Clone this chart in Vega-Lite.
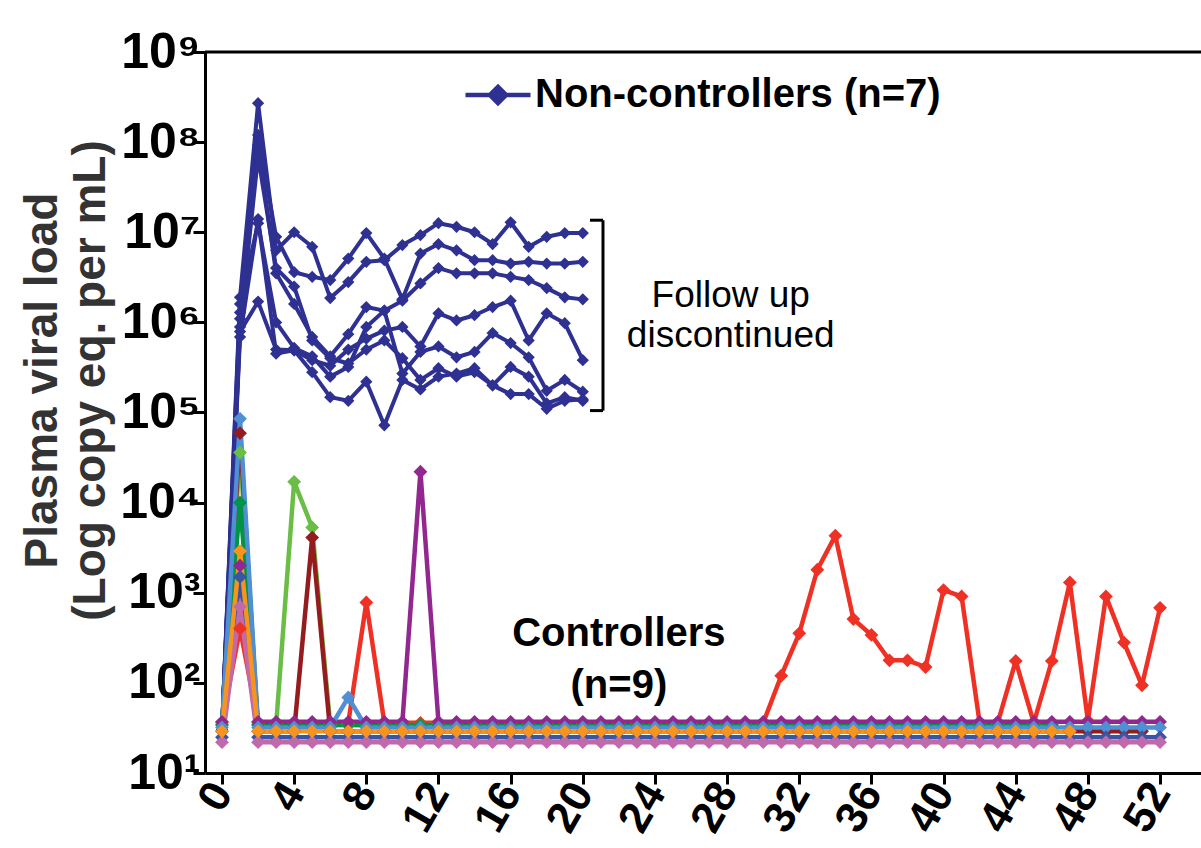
{
"$schema": "https://vega.github.io/schema/vega-lite/v6.json",
"width": 996, "height": 721,
"autosize": {"type": "none"},
"padding": {"left": 205, "top": 52, "right": 0, "bottom": 75},
"background": "white",
"config": {"view": {"stroke": null}, "font": "Liberation Sans"},
"datasets": {
"nc": [
{"s":"n1","w":0,"v":30},{"s":"n1","w":1,"v":1.9e6},{"s":"n1","w":2,"v":2.7e8},{"s":"n1","w":3,"v":6.3e6},{"s":"n1","w":4,"v":1.0e7},{"s":"n1","w":5,"v":6.9e6},{"s":"n1","w":6,"v":1.86e6},{"s":"n1","w":7,"v":2.8e6},{"s":"n1","w":8,"v":4.7e6},{"s":"n1","w":9,"v":4.9e6},{"s":"n1","w":10,"v":7.2e6},{"s":"n1","w":11,"v":9.3e6},{"s":"n1","w":12,"v":1.26e7},{"s":"n1","w":13,"v":1.15e7},{"s":"n1","w":14,"v":1.0e7},{"s":"n1","w":15,"v":7.4e6},{"s":"n1","w":16,"v":1.29e7},{"s":"n1","w":17,"v":6.9e6},{"s":"n1","w":18,"v":8.9e6},{"s":"n1","w":19,"v":9.8e6},{"s":"n1","w":20,"v":9.8e6},
{"s":"n2","w":0,"v":30},{"s":"n2","w":1,"v":1.29e6},{"s":"n2","w":2,"v":1.2e8},{"s":"n2","w":3,"v":8.9e6},{"s":"n2","w":4,"v":3.6e6},{"s":"n2","w":5,"v":3.2e6},{"s":"n2","w":6,"v":2.95e6},{"s":"n2","w":7,"v":5.1e6},{"s":"n2","w":8,"v":9.8e6},{"s":"n2","w":9,"v":5.1e6},{"s":"n2","w":10,"v":1.8e6},{"s":"n2","w":11,"v":5.8e6},{"s":"n2","w":12,"v":7.4e6},{"s":"n2","w":13,"v":6.3e6},{"s":"n2","w":14,"v":4.9e6},{"s":"n2","w":15,"v":4.9e6},{"s":"n2","w":16,"v":4.5e6},{"s":"n2","w":17,"v":4.7e6},{"s":"n2","w":18,"v":4.5e6},{"s":"n2","w":19,"v":4.5e6},{"s":"n2","w":20,"v":4.7e6},
{"s":"n3","w":0,"v":30},{"s":"n3","w":1,"v":1.1e6},{"s":"n3","w":2,"v":9.3e7},{"s":"n3","w":3,"v":3.5e6},{"s":"n3","w":4,"v":1.6e6},{"s":"n3","w":5,"v":6.9e5},{"s":"n3","w":6,"v":4.2e5},{"s":"n3","w":7,"v":7.4e5},{"s":"n3","w":8,"v":1.48e6},{"s":"n3","w":9,"v":1.35e6},{"s":"n3","w":10,"v":1.74e6},{"s":"n3","w":11,"v":2.7e6},{"s":"n3","w":12,"v":4.0e6},{"s":"n3","w":13,"v":3.5e6},{"s":"n3","w":14,"v":3.5e6},{"s":"n3","w":15,"v":3.5e6},{"s":"n3","w":16,"v":3.2e6},{"s":"n3","w":17,"v":2.95e6},{"s":"n3","w":18,"v":2.4e6},{"s":"n3","w":19,"v":1.9e6},{"s":"n3","w":20,"v":1.8e6},
{"s":"n4","w":0,"v":30},{"s":"n4","w":1,"v":6.9e5},{"s":"n4","w":2,"v":1.4e7},{"s":"n4","w":3,"v":4.5e5},{"s":"n4","w":4,"v":4.9e5},{"s":"n4","w":5,"v":3.8e5},{"s":"n4","w":6,"v":3.3e5},{"s":"n4","w":7,"v":5.0e5},{"s":"n4","w":8,"v":6.6e5},{"s":"n4","w":9,"v":8.1e5},{"s":"n4","w":10,"v":8.9e5},{"s":"n4","w":11,"v":5.4e5},{"s":"n4","w":12,"v":1.26e6},{"s":"n4","w":13,"v":1.05e6},{"s":"n4","w":14,"v":1.2e6},{"s":"n4","w":15,"v":1.48e6},{"s":"n4","w":16,"v":1.74e6},{"s":"n4","w":17,"v":6.3e5},{"s":"n4","w":18,"v":1.26e6},{"s":"n4","w":19,"v":9.8e5},{"s":"n4","w":20,"v":3.8e5},
{"s":"n5","w":0,"v":30},{"s":"n5","w":1,"v":1.6e6},{"s":"n5","w":2,"v":1.26e7},{"s":"n5","w":3,"v":1.0e6},{"s":"n5","w":4,"v":5.2e5},{"s":"n5","w":5,"v":4.2e5},{"s":"n5","w":6,"v":2.5e5},{"s":"n5","w":7,"v":3.2e5},{"s":"n5","w":8,"v":8.9e5},{"s":"n5","w":9,"v":1.35e6},{"s":"n5","w":10,"v":2.7e5},{"s":"n5","w":11,"v":4.7e5},{"s":"n5","w":12,"v":5.4e5},{"s":"n5","w":13,"v":4.1e5},{"s":"n5","w":14,"v":4.7e5},{"s":"n5","w":15,"v":7.6e5},{"s":"n5","w":16,"v":5.9e5},{"s":"n5","w":17,"v":4.1e5},{"s":"n5","w":18,"v":1.74e5},{"s":"n5","w":19,"v":2.3e5},{"s":"n5","w":20,"v":1.7e5},
{"s":"n6","w":0,"v":30},{"s":"n6","w":1,"v":7.9e5},{"s":"n6","w":2,"v":1.7e6},{"s":"n6","w":3,"v":5.0e5},{"s":"n6","w":4,"v":4.9e5},{"s":"n6","w":5,"v":2.8e5},{"s":"n6","w":6,"v":1.48e5},{"s":"n6","w":7,"v":1.35e5},{"s":"n6","w":8,"v":2.2e5},{"s":"n6","w":9,"v":7.2e4},{"s":"n6","w":10,"v":2.3e5},{"s":"n6","w":11,"v":1.8e5},{"s":"n6","w":12,"v":2.5e5},{"s":"n6","w":13,"v":2.7e5},{"s":"n6","w":14,"v":3.1e5},{"s":"n6","w":15,"v":2.0e5},{"s":"n6","w":16,"v":3.2e5},{"s":"n6","w":17,"v":2.5e5},{"s":"n6","w":18,"v":1.26e5},{"s":"n6","w":19,"v":1.48e5},{"s":"n6","w":20,"v":1.35e5},
{"s":"n7","w":0,"v":30},{"s":"n7","w":1,"v":8.9e5},{"s":"n7","w":2,"v":6.9e7},{"s":"n7","w":3,"v":4.0e6},{"s":"n7","w":4,"v":2.5e6},{"s":"n7","w":5,"v":6.3e5},{"s":"n7","w":6,"v":4.0e5},{"s":"n7","w":7,"v":3.5e5},{"s":"n7","w":8,"v":5.0e5},{"s":"n7","w":9,"v":6.3e5},{"s":"n7","w":10,"v":4.0e5},{"s":"n7","w":11,"v":2.3e5},{"s":"n7","w":12,"v":3.1e5},{"s":"n7","w":13,"v":2.5e5},{"s":"n7","w":14,"v":2.8e5},{"s":"n7","w":15,"v":2.0e5},{"s":"n7","w":16,"v":1.6e5},{"s":"n7","w":17,"v":1.6e5},{"s":"n7","w":18,"v":1.1e5},{"s":"n7","w":19,"v":1.35e5},{"s":"n7","w":20,"v":1.4e5}
],
"ctrl": [
{"s":"c1","w":0,"v":36},{"s":"c1","w":1,"v":400},{"s":"c1","w":2,"v":36},{"s":"c1","w":3,"v":36},{"s":"c1","w":4,"v":36},{"s":"c1","w":5,"v":36},{"s":"c1","w":6,"v":36},{"s":"c1","w":7,"v":36},{"s":"c1","w":8,"v":780},{"s":"c1","w":9,"v":36},{"s":"c1","w":10,"v":36},{"s":"c1","w":11,"v":36},{"s":"c1","w":12,"v":36},{"s":"c1","w":13,"v":36},{"s":"c1","w":14,"v":36},{"s":"c1","w":15,"v":36},{"s":"c1","w":16,"v":36},{"s":"c1","w":17,"v":36},{"s":"c1","w":18,"v":36},{"s":"c1","w":19,"v":36},{"s":"c1","w":20,"v":36},{"s":"c1","w":21,"v":36},{"s":"c1","w":22,"v":36},{"s":"c1","w":23,"v":36},{"s":"c1","w":24,"v":36},{"s":"c1","w":25,"v":36},{"s":"c1","w":26,"v":36},{"s":"c1","w":27,"v":36},{"s":"c1","w":28,"v":36},{"s":"c1","w":29,"v":36},{"s":"c1","w":30,"v":36},{"s":"c1","w":31,"v":120},{"s":"c1","w":32,"v":355},{"s":"c1","w":33,"v":1800},{"s":"c1","w":34,"v":4300},{"s":"c1","w":35,"v":510},{"s":"c1","w":36,"v":340},{"s":"c1","w":37,"v":178},{"s":"c1","w":38,"v":178},{"s":"c1","w":39,"v":150},{"s":"c1","w":40,"v":1070},{"s":"c1","w":41,"v":910},{"s":"c1","w":42,"v":36},{"s":"c1","w":43,"v":36},{"s":"c1","w":44,"v":175},{"s":"c1","w":45,"v":36},{"s":"c1","w":46,"v":175},{"s":"c1","w":47,"v":1300},{"s":"c1","w":48,"v":38},{"s":"c1","w":49,"v":910},{"s":"c1","w":50,"v":280},{"s":"c1","w":51,"v":94},{"s":"c1","w":52,"v":680},
{"s":"c2","w":0,"v":34},{"s":"c2","w":1,"v":36000},{"s":"c2","w":2,"v":34},{"s":"c2","w":3,"v":34},{"s":"c2","w":4,"v":17000},{"s":"c2","w":5,"v":5300},{"s":"c2","w":6,"v":34},{"s":"c2","w":7,"v":34},{"s":"c2","w":8,"v":34},{"s":"c2","w":9,"v":34},{"s":"c2","w":10,"v":34},{"s":"c2","w":11,"v":34},{"s":"c2","w":12,"v":34},{"s":"c2","w":13,"v":34},{"s":"c2","w":14,"v":34},{"s":"c2","w":15,"v":34},{"s":"c2","w":16,"v":34},{"s":"c2","w":17,"v":34},{"s":"c2","w":18,"v":34},{"s":"c2","w":19,"v":34},{"s":"c2","w":20,"v":34},{"s":"c2","w":21,"v":34},{"s":"c2","w":22,"v":34},{"s":"c2","w":23,"v":34},{"s":"c2","w":24,"v":34},{"s":"c2","w":25,"v":34},{"s":"c2","w":26,"v":34},{"s":"c2","w":27,"v":34},{"s":"c2","w":28,"v":34},{"s":"c2","w":29,"v":34},{"s":"c2","w":30,"v":34},{"s":"c2","w":31,"v":34},{"s":"c2","w":32,"v":34},{"s":"c2","w":33,"v":34},{"s":"c2","w":34,"v":34},{"s":"c2","w":35,"v":34},{"s":"c2","w":36,"v":34},{"s":"c2","w":37,"v":34},{"s":"c2","w":38,"v":34},{"s":"c2","w":39,"v":34},{"s":"c2","w":40,"v":34},{"s":"c2","w":41,"v":34},{"s":"c2","w":42,"v":34},{"s":"c2","w":43,"v":34},{"s":"c2","w":44,"v":34},{"s":"c2","w":45,"v":34},{"s":"c2","w":46,"v":34},
{"s":"c3","w":0,"v":29},{"s":"c3","w":1,"v":59000},{"s":"c3","w":2,"v":29},{"s":"c3","w":3,"v":29},{"s":"c3","w":4,"v":29},{"s":"c3","w":5,"v":4100},{"s":"c3","w":6,"v":29},{"s":"c3","w":7,"v":29},{"s":"c3","w":8,"v":29},{"s":"c3","w":9,"v":29},{"s":"c3","w":10,"v":29},{"s":"c3","w":11,"v":29},{"s":"c3","w":12,"v":29},{"s":"c3","w":13,"v":29},{"s":"c3","w":14,"v":29},{"s":"c3","w":15,"v":29},{"s":"c3","w":16,"v":29},{"s":"c3","w":17,"v":29},{"s":"c3","w":18,"v":29},{"s":"c3","w":19,"v":29},{"s":"c3","w":20,"v":29},{"s":"c3","w":21,"v":29},{"s":"c3","w":22,"v":29},{"s":"c3","w":23,"v":29},{"s":"c3","w":24,"v":29},{"s":"c3","w":25,"v":29},{"s":"c3","w":26,"v":29},{"s":"c3","w":27,"v":29},{"s":"c3","w":28,"v":29},{"s":"c3","w":29,"v":29},{"s":"c3","w":30,"v":29},{"s":"c3","w":31,"v":29},{"s":"c3","w":32,"v":29},{"s":"c3","w":33,"v":29},{"s":"c3","w":34,"v":29},{"s":"c3","w":35,"v":29},{"s":"c3","w":36,"v":29},{"s":"c3","w":37,"v":29},{"s":"c3","w":38,"v":29},{"s":"c3","w":39,"v":29},{"s":"c3","w":40,"v":29},{"s":"c3","w":41,"v":29},{"s":"c3","w":42,"v":29},{"s":"c3","w":43,"v":29},{"s":"c3","w":44,"v":29},{"s":"c3","w":45,"v":29},{"s":"c3","w":46,"v":29},{"s":"c3","w":47,"v":29},{"s":"c3","w":48,"v":29},{"s":"c3","w":49,"v":29},{"s":"c3","w":50,"v":29},{"s":"c3","w":51,"v":29},
{"s":"c4","w":0,"v":34},{"s":"c4","w":1,"v":10000},{"s":"c4","w":2,"v":34},{"s":"c4","w":3,"v":34},{"s":"c4","w":4,"v":34},{"s":"c4","w":5,"v":34},{"s":"c4","w":6,"v":34},{"s":"c4","w":7,"v":34},{"s":"c4","w":8,"v":34},{"s":"c4","w":9,"v":34},{"s":"c4","w":10,"v":34},{"s":"c4","w":11,"v":34},{"s":"c4","w":12,"v":34},{"s":"c4","w":13,"v":34},{"s":"c4","w":14,"v":34},{"s":"c4","w":15,"v":34},{"s":"c4","w":16,"v":34},{"s":"c4","w":17,"v":34},{"s":"c4","w":18,"v":34},{"s":"c4","w":19,"v":34},{"s":"c4","w":20,"v":34},{"s":"c4","w":21,"v":34},{"s":"c4","w":22,"v":34},{"s":"c4","w":23,"v":34},{"s":"c4","w":24,"v":34},{"s":"c4","w":25,"v":34},{"s":"c4","w":26,"v":34},{"s":"c4","w":27,"v":34},{"s":"c4","w":28,"v":34},{"s":"c4","w":29,"v":34},{"s":"c4","w":30,"v":34},{"s":"c4","w":31,"v":34},{"s":"c4","w":32,"v":34},{"s":"c4","w":33,"v":34},{"s":"c4","w":34,"v":34},{"s":"c4","w":35,"v":34},{"s":"c4","w":36,"v":34},{"s":"c4","w":37,"v":34},{"s":"c4","w":38,"v":34},{"s":"c4","w":39,"v":34},{"s":"c4","w":40,"v":34},{"s":"c4","w":41,"v":34},{"s":"c4","w":42,"v":34},{"s":"c4","w":43,"v":34},{"s":"c4","w":44,"v":34},{"s":"c4","w":45,"v":34},{"s":"c4","w":46,"v":34},
{"s":"c5","w":0,"v":37},{"s":"c5","w":1,"v":2000},{"s":"c5","w":2,"v":37},{"s":"c5","w":3,"v":37},{"s":"c5","w":4,"v":37},{"s":"c5","w":5,"v":37},{"s":"c5","w":6,"v":37},{"s":"c5","w":7,"v":37},{"s":"c5","w":8,"v":37},{"s":"c5","w":9,"v":37},{"s":"c5","w":10,"v":37},{"s":"c5","w":11,"v":22000},{"s":"c5","w":12,"v":37},{"s":"c5","w":13,"v":37},{"s":"c5","w":14,"v":37},{"s":"c5","w":15,"v":37},{"s":"c5","w":16,"v":37},{"s":"c5","w":17,"v":37},{"s":"c5","w":18,"v":37},{"s":"c5","w":19,"v":37},{"s":"c5","w":20,"v":37},{"s":"c5","w":21,"v":37},{"s":"c5","w":22,"v":37},{"s":"c5","w":23,"v":37},{"s":"c5","w":24,"v":37},{"s":"c5","w":25,"v":37},{"s":"c5","w":26,"v":37},{"s":"c5","w":27,"v":37},{"s":"c5","w":28,"v":37},{"s":"c5","w":29,"v":37},{"s":"c5","w":30,"v":37},{"s":"c5","w":31,"v":37},{"s":"c5","w":32,"v":37},{"s":"c5","w":33,"v":37},{"s":"c5","w":34,"v":37},{"s":"c5","w":35,"v":37},{"s":"c5","w":36,"v":37},{"s":"c5","w":37,"v":37},{"s":"c5","w":38,"v":37},{"s":"c5","w":39,"v":37},{"s":"c5","w":40,"v":37},{"s":"c5","w":41,"v":37},{"s":"c5","w":42,"v":37},{"s":"c5","w":43,"v":37},{"s":"c5","w":44,"v":37},{"s":"c5","w":45,"v":37},{"s":"c5","w":46,"v":37},{"s":"c5","w":47,"v":37},{"s":"c5","w":48,"v":37},{"s":"c5","w":49,"v":37},{"s":"c5","w":50,"v":37},{"s":"c5","w":51,"v":37},{"s":"c5","w":52,"v":37},
{"s":"c6","w":0,"v":32},{"s":"c6","w":1,"v":85000},{"s":"c6","w":2,"v":32},{"s":"c6","w":3,"v":32},{"s":"c6","w":4,"v":32},{"s":"c6","w":5,"v":32},{"s":"c6","w":6,"v":32},{"s":"c6","w":7,"v":69},{"s":"c6","w":8,"v":32},{"s":"c6","w":9,"v":32},{"s":"c6","w":10,"v":32},{"s":"c6","w":11,"v":32},{"s":"c6","w":12,"v":32},{"s":"c6","w":13,"v":32},{"s":"c6","w":14,"v":32},{"s":"c6","w":15,"v":32},{"s":"c6","w":16,"v":32},{"s":"c6","w":17,"v":32},{"s":"c6","w":18,"v":32},{"s":"c6","w":19,"v":32},{"s":"c6","w":20,"v":32},{"s":"c6","w":21,"v":32},{"s":"c6","w":22,"v":32},{"s":"c6","w":23,"v":32},{"s":"c6","w":24,"v":32},{"s":"c6","w":25,"v":32},{"s":"c6","w":26,"v":32},{"s":"c6","w":27,"v":32},{"s":"c6","w":28,"v":32},{"s":"c6","w":29,"v":32},{"s":"c6","w":30,"v":32},{"s":"c6","w":31,"v":32},{"s":"c6","w":32,"v":32},{"s":"c6","w":33,"v":32},{"s":"c6","w":34,"v":32},{"s":"c6","w":35,"v":32},{"s":"c6","w":36,"v":32},{"s":"c6","w":37,"v":32},{"s":"c6","w":38,"v":32},{"s":"c6","w":39,"v":32},{"s":"c6","w":40,"v":32},{"s":"c6","w":41,"v":32},{"s":"c6","w":42,"v":32},{"s":"c6","w":43,"v":32},{"s":"c6","w":44,"v":32},{"s":"c6","w":45,"v":32},{"s":"c6","w":46,"v":32},{"s":"c6","w":47,"v":32},{"s":"c6","w":48,"v":32},{"s":"c6","w":49,"v":32},{"s":"c6","w":50,"v":32},{"s":"c6","w":51,"v":32},{"s":"c6","w":52,"v":32},
{"s":"c7","w":0,"v":25},{"s":"c7","w":1,"v":1500},{"s":"c7","w":2,"v":25},{"s":"c7","w":3,"v":25},{"s":"c7","w":4,"v":25},{"s":"c7","w":5,"v":25},{"s":"c7","w":6,"v":25},{"s":"c7","w":7,"v":25},{"s":"c7","w":8,"v":25},{"s":"c7","w":9,"v":25},{"s":"c7","w":10,"v":25},{"s":"c7","w":11,"v":25},{"s":"c7","w":12,"v":25},{"s":"c7","w":13,"v":25},{"s":"c7","w":14,"v":25},{"s":"c7","w":15,"v":25},{"s":"c7","w":16,"v":25},{"s":"c7","w":17,"v":25},{"s":"c7","w":18,"v":25},{"s":"c7","w":19,"v":25},{"s":"c7","w":20,"v":25},{"s":"c7","w":21,"v":25},{"s":"c7","w":22,"v":25},{"s":"c7","w":23,"v":25},{"s":"c7","w":24,"v":25},{"s":"c7","w":25,"v":25},{"s":"c7","w":26,"v":25},{"s":"c7","w":27,"v":25},{"s":"c7","w":28,"v":25},{"s":"c7","w":29,"v":25},{"s":"c7","w":30,"v":25},{"s":"c7","w":31,"v":25},{"s":"c7","w":32,"v":25},{"s":"c7","w":33,"v":25},{"s":"c7","w":34,"v":25},{"s":"c7","w":35,"v":25},{"s":"c7","w":36,"v":25},{"s":"c7","w":37,"v":25},{"s":"c7","w":38,"v":25},{"s":"c7","w":39,"v":25},{"s":"c7","w":40,"v":25},{"s":"c7","w":41,"v":25},{"s":"c7","w":42,"v":25},{"s":"c7","w":43,"v":25},{"s":"c7","w":44,"v":25},{"s":"c7","w":45,"v":25},{"s":"c7","w":46,"v":25},{"s":"c7","w":47,"v":25},{"s":"c7","w":48,"v":25},{"s":"c7","w":49,"v":25},{"s":"c7","w":50,"v":25},{"s":"c7","w":51,"v":25},{"s":"c7","w":52,"v":25},
{"s":"c8","w":0,"v":22},{"s":"c8","w":1,"v":700},{"s":"c8","w":2,"v":22},{"s":"c8","w":3,"v":22},{"s":"c8","w":4,"v":22},{"s":"c8","w":5,"v":22},{"s":"c8","w":6,"v":22},{"s":"c8","w":7,"v":22},{"s":"c8","w":8,"v":22},{"s":"c8","w":9,"v":22},{"s":"c8","w":10,"v":22},{"s":"c8","w":11,"v":22},{"s":"c8","w":12,"v":22},{"s":"c8","w":13,"v":22},{"s":"c8","w":14,"v":22},{"s":"c8","w":15,"v":22},{"s":"c8","w":16,"v":22},{"s":"c8","w":17,"v":22},{"s":"c8","w":18,"v":22},{"s":"c8","w":19,"v":22},{"s":"c8","w":20,"v":22},{"s":"c8","w":21,"v":22},{"s":"c8","w":22,"v":22},{"s":"c8","w":23,"v":22},{"s":"c8","w":24,"v":22},{"s":"c8","w":25,"v":22},{"s":"c8","w":26,"v":22},{"s":"c8","w":27,"v":22},{"s":"c8","w":28,"v":22},{"s":"c8","w":29,"v":22},{"s":"c8","w":30,"v":22},{"s":"c8","w":31,"v":22},{"s":"c8","w":32,"v":22},{"s":"c8","w":33,"v":22},{"s":"c8","w":34,"v":22},{"s":"c8","w":35,"v":22},{"s":"c8","w":36,"v":22},{"s":"c8","w":37,"v":22},{"s":"c8","w":38,"v":22},{"s":"c8","w":39,"v":22},{"s":"c8","w":40,"v":22},{"s":"c8","w":41,"v":22},{"s":"c8","w":42,"v":22},{"s":"c8","w":43,"v":22},{"s":"c8","w":44,"v":22},{"s":"c8","w":45,"v":22},{"s":"c8","w":46,"v":22},{"s":"c8","w":47,"v":22},{"s":"c8","w":48,"v":22},{"s":"c8","w":49,"v":22},{"s":"c8","w":50,"v":22},{"s":"c8","w":51,"v":22},{"s":"c8","w":52,"v":22},
{"s":"c9","w":0,"v":29},{"s":"c9","w":1,"v":2900},{"s":"c9","w":2,"v":29},{"s":"c9","w":3,"v":29},{"s":"c9","w":4,"v":29},{"s":"c9","w":5,"v":29},{"s":"c9","w":6,"v":29},{"s":"c9","w":7,"v":29},{"s":"c9","w":8,"v":29},{"s":"c9","w":9,"v":29},{"s":"c9","w":10,"v":29},{"s":"c9","w":11,"v":29},{"s":"c9","w":12,"v":29},{"s":"c9","w":13,"v":29},{"s":"c9","w":14,"v":29},{"s":"c9","w":15,"v":29},{"s":"c9","w":16,"v":29},{"s":"c9","w":17,"v":29},{"s":"c9","w":18,"v":29},{"s":"c9","w":19,"v":29},{"s":"c9","w":20,"v":29},{"s":"c9","w":21,"v":29},{"s":"c9","w":22,"v":29},{"s":"c9","w":23,"v":29},{"s":"c9","w":24,"v":29},{"s":"c9","w":25,"v":29},{"s":"c9","w":26,"v":29},{"s":"c9","w":27,"v":29},{"s":"c9","w":28,"v":29},{"s":"c9","w":29,"v":29},{"s":"c9","w":30,"v":29},{"s":"c9","w":31,"v":29},{"s":"c9","w":32,"v":29},{"s":"c9","w":33,"v":29},{"s":"c9","w":34,"v":29},{"s":"c9","w":35,"v":29},{"s":"c9","w":36,"v":29},{"s":"c9","w":37,"v":29},{"s":"c9","w":38,"v":29},{"s":"c9","w":39,"v":29},{"s":"c9","w":40,"v":29},{"s":"c9","w":41,"v":29},{"s":"c9","w":42,"v":29},{"s":"c9","w":43,"v":29},{"s":"c9","w":44,"v":29},{"s":"c9","w":45,"v":29},{"s":"c9","w":46,"v":29},{"s":"c9","w":47,"v":29}
]
},
"layer": [
{
"data": {"name": "nc"},
"mark": {"type": "line", "strokeWidth": 4, "strokeJoin": "round", "point": {"shape": "diamond", "size": 150, "filled": true}},
"encoding": {
"x": {"field": "w", "type": "quantitative", "scale": {"domain": [-0.942, 54.27], "nice": false, "zero": false},
"axis": {"values": [0,4,8,12,16,20,24,28,32,36,40,44,48,52], "title": null, "grid": false, "domainColor": "black", "domainWidth": 3, "tickColor": "black", "tickWidth": 3, "tickSize": 11, "labelFont": "Liberation Sans", "labelFontWeight": "bold", "labelFontSize": 44, "labelAngle": -60, "labelColor": "black", "labelPadding": 2, "labelFlush": false, "labelOverlap": false}},
"y": {"field": "v", "type": "quantitative", "scale": {"type": "log", "domain": [10, 1000000000], "nice": false},
"axis": {"values": [10,100,1000,10000,100000,1000000,10000000,100000000,1000000000], "labelExpr": "'10' + substring('⁰¹²³⁴⁵⁶⁷⁸⁹', round(log(datum.value)/LN10), round(log(datum.value)/LN10)+1)", "grid": false, "domainColor": "black", "domainWidth": 3, "tickColor": "black", "tickWidth": 3, "tickSize": 12, "labelFont": "Liberation Sans", "labelFontWeight": "bold", "labelFontSize": 50, "labelColor": "black", "labelPadding": -7, "labelFlush": false, "labelOverlap": false,
"title": ["Plasma viral load", "(Log copy eq. per mL)"], "titleFont": "Liberation Sans", "titleFontSize": 46, "titleFontWeight": "bold", "titleColor": "#333333", "titleAngle": -90, "titleX": -149, "titleY": 328, "titleAlign": "center", "titleBaseline": "alphabetic", "titleLineHeight": 48}},
"detail": {"field": "s"},
"color": {"datum": "Non-controllers (n=7)", "scale": {"domain": ["Non-controllers (n=7)"], "range": ["#2e3192"]},
"legend": {"orient": "none", "legendX": 258, "legendY": 8, "title": null, "labelFont": "Liberation Sans", "labelFontSize": 40, "labelFontWeight": "bold", "labelColor": "black", "labelLimit": 0, "labelOffset": 2, "symbolType": "M-1,0L1,0M0,-0.25L0.25,0L0,0.25L-0.25,0Z", "symbolSize": 4225, "symbolStrokeWidth": 4.5, "symbolFillColor": "#2e3192", "symbolStrokeColor": "#2e3192"}}
}
},
{
"data": {"name": "ctrl"},
"mark": {"type": "line", "strokeWidth": 4.5, "strokeJoin": "round", "point": {"shape": "diamond", "size": 190, "filled": true}},
"encoding": {
"x": {"field": "w", "type": "quantitative"},
"y": {"field": "v", "type": "quantitative"},
"color": {"field": "s", "type": "nominal", "scale": {"domain": ["c1","c2","c3","c4","c5","c6","c7","c8","c9"], "range": ["#ee3124","#6abd45","#941b1e","#009444","#92278f","#4f8fd3","#3a55a4","#c06aac","#f7941d"]}, "legend": null}
}
},
{
"data": {"values": [{}]},
"mark": {"type": "rule", "strokeWidth": 3, "color": "black"},
"encoding": {"y": {"datum": 1000000000, "type": "quantitative"}}
},
{
"data": {"values": [{}]},
"mark": {"type": "rule", "strokeWidth": 3, "color": "black"},
"encoding": {"x": {"datum": 21.12, "type": "quantitative"}, "y": {"datum": 13600000, "type": "quantitative"}, "y2": {"datum": 105000}}
},
{
"data": {"values": [{}]},
"mark": {"type": "rule", "strokeWidth": 3, "color": "black"},
"encoding": {"x": {"datum": 20.4, "type": "quantitative"}, "x2": {"datum": 21.12}, "y": {"datum": 13600000, "type": "quantitative"}}
},
{
"data": {"values": [{}]},
"mark": {"type": "rule", "strokeWidth": 3, "color": "black"},
"encoding": {"x": {"datum": 20.4, "type": "quantitative"}, "x2": {"datum": 21.12}, "y": {"datum": 105000, "type": "quantitative"}}
},
{
"data": {"values": [{}]},
"mark": {"type": "text", "text": ["Follow up", "discontinued"], "font": "Liberation Sans", "fontSize": 37, "lineHeight": 40, "align": "center", "baseline": "alphabetic", "color": "black"},
"encoding": {"x": {"datum": 28.2, "type": "quantitative"}, "y": {"datum": 1500000, "type": "quantitative"}}
},
{
"data": {"values": [{}]},
"mark": {"type": "text", "text": ["Controllers", "(n=9)"], "font": "Liberation Sans", "fontSize": 40, "fontWeight": "bold", "lineHeight": 52, "align": "center", "baseline": "alphabetic", "color": "black"},
"encoding": {"x": {"datum": 22.0, "type": "quantitative"}, "y": {"datum": 258, "type": "quantitative"}}
}
],
"resolve": {"scale": {"color": "independent"}}
}
